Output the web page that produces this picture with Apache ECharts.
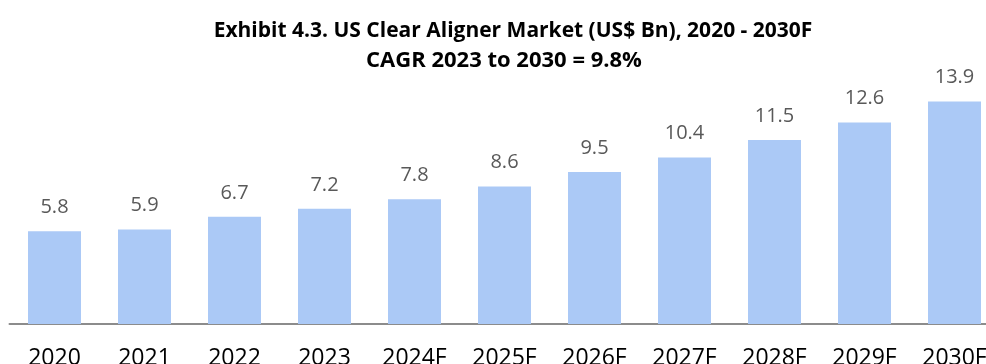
<!DOCTYPE html>
<html>
<head>
<meta charset="utf-8">
<style>
  html, body { margin: 0; padding: 0; background: #ffffff; }
  #chart { width: 986px; height: 364px; }
</style>
<script src="https://cdn.jsdelivr.net/npm/echarts@6/dist/echarts.min.js"></script>
</head>
<body>
<div id="chart"></div>
<script>
// US clear aligner market size, US$ Bn
const years = ['2020', '2021', '2022', '2023', '2024F', '2025F', '2026F', '2027F', '2028F', '2029F', '2030F'];
const marketSize = [5.8, 5.9, 6.7, 7.2, 7.8, 8.6, 9.5, 10.4, 11.5, 12.6, 13.9];

const chart = echarts.init(document.getElementById('chart'), null, { renderer: 'canvas' });

const titleFont = {
  fontFamily: 'Open Sans',
  fontWeight: 'bold',
  color: '#000000'
};

chart.setOption({
  animation: false,
  backgroundColor: '#ffffff',
  title: [{
    text: 'Exhibit 4.3. US Clear Aligner Market (US$ Bn), 2020 - 2030F',
    left: 508,
    top: 11,
    textAlign: 'center',
    textStyle: Object.assign({ fontSize: 21, lineHeight: 30 }, titleFont)
  }, {
    text: 'CAGR 2023 to 2030 = 9.8%',
    left: 499,
    top: 41,
    textAlign: 'center',
    textStyle: Object.assign({ fontSize: 22, lineHeight: 30 }, titleFont)
  }],
  // the plot runs slightly past the right edge of the canvas
  grid: {
    left: 9.5,
    width: 990,
    top: 84,
    bottom: 40,
    containLabel: false,
    outerBoundsMode: 'none'
  },
  xAxis: {
    type: 'category',
    data: years,
    axisLine: { show: true, lineStyle: { color: '#8c8c8c', width: 2 } },
    axisTick: { show: false },
    axisLabel: {
      margin: 23,
      fontFamily: 'Open Sans',
      fontSize: 23,
      color: '#000000'
    }
  },
  yAxis: {
    type: 'value',
    min: 0,
    max: 15,
    show: false,
    splitLine: { show: false }
  },
  series: [{
    type: 'bar',
    data: marketSize,
    barWidth: 53,
    itemStyle: { color: '#abc9f6' },
    label: {
      show: true,
      position: 'top',
      distance: 14,
      fontFamily: 'Open Sans',
      fontSize: 20,
      color: '#595959',
      formatter: p => p.value.toFixed(1)
    }
  }]
});
</script>
</body>
</html>
